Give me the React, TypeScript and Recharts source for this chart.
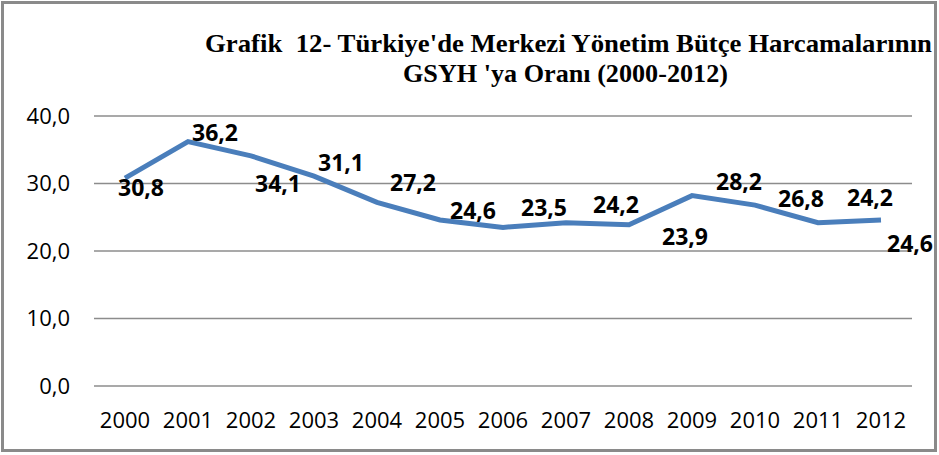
import React from 'react';
import { LineChart, Line, XAxis, YAxis, CartesianGrid, LabelList } from 'recharts';

const YEARS = ['2000', '2001', '2002', '2003', '2004', '2005', '2006', '2007', '2008', '2009', '2010', '2011', '2012'];
const RATIO = [30.8, 36.2, 34.1, 31.1, 27.2, 24.6, 23.5, 24.2, 23.9, 28.2, 26.8, 24.2, 24.6];
const Y_TICKS = [0, 10, 20, 30, 40];
const TITLE_1 = "Grafik  12- Türkiye'de Merkezi Yönetim Bütçe Harcamalarının";
const TITLE_2 = "GSYH 'ya Oranı (2000-2012)";

// label nudges (px) relative to each point, as placed in the original
const LABEL_DX = [16, 27, 27, 27, 36, 33, 41, 50, 56, 47, 46, 52, 29];
const LABEL_DY = [9, -10, 27, -14, -20, -10, -20, -19, 11, -15, -7, -26, 23];

const data = YEARS.map((year, i) => ({ year, value: RATIO[i] }));

const fmt = (v: number) => v.toFixed(1).replace('.', ',');

const PointLabel = (props: any) => {
  const { x, y, index, value } = props;
  return (
    <text
      x={x + LABEL_DX[index]}
      y={y + LABEL_DY[index]}
      textAnchor="middle"
      dominantBaseline="central"
      fontFamily="'Open Sans', sans-serif"
      fontWeight={700}
      fontSize={23}
      fill="#000"
    >
      {fmt(value)}
    </text>
  );
};

export default function App() {
  return (
    <div style={{ position: 'absolute', left: 0, top: 0, width: 939, height: 455, background: '#fff' }}>
      <div
        style={{
          position: 'absolute',
          left: 1,
          top: 1,
          width: 936,
          height: 451,
          border: '3px solid #8a8a8a',
          boxSizing: 'border-box',
        }}
      />
      <svg width={939} height={100} style={{ position: 'absolute', left: 0, top: 0 }}>
        <text
          x={205}
          y={52}
          textLength={727}
          lengthAdjust="spacingAndGlyphs"
          fontFamily="'Liberation Serif', serif"
          fontWeight={700}
          fontSize={25}
          fill="#000"
          style={{ whiteSpace: 'pre' }}
        >
          {TITLE_1}
        </text>
        <text
          x={403}
          y={82}
          textLength={325}
          lengthAdjust="spacingAndGlyphs"
          fontFamily="'Liberation Serif', serif"
          fontWeight={700}
          fontSize={25}
          fill="#000"
        >
          {TITLE_2}
        </text>
      </svg>
      <LineChart
        width={939}
        height={455}
        data={data}
        margin={{ top: 116, right: 27, bottom: 29, left: 0 }}
        style={{ position: 'absolute', left: 0, top: 0 }}
      >
        <CartesianGrid vertical={false} stroke="#8c8c8c" strokeWidth={1.5} />
        <XAxis
          dataKey="year"
          axisLine={false}
          tickLine={false}
          tickSize={0}
          tickMargin={26}
          height={40}
          padding={{ left: 31, right: 31 }}
          interval={0}
          tick={{ fill: '#000', fontFamily: "'Open Sans', sans-serif", fontSize: 22 }}
        />
        <YAxis
          domain={[0, 40]}
          ticks={Y_TICKS}
          width={94}
          axisLine={false}
          tickLine={false}
          tickSize={0}
          tickMargin={24}
          tickFormatter={fmt}
          tick={{ fill: '#000', fontFamily: "'Open Sans', sans-serif", fontSize: 22 }}
        />
        <Line
          type="linear"
          dataKey="value"
          stroke="#4a7ebb"
          strokeWidth={5}
          dot={false}
          activeDot={false}
          isAnimationActive={false}
        >
          <LabelList dataKey="value" content={<PointLabel />} />
        </Line>
      </LineChart>
    </div>
  );
}
